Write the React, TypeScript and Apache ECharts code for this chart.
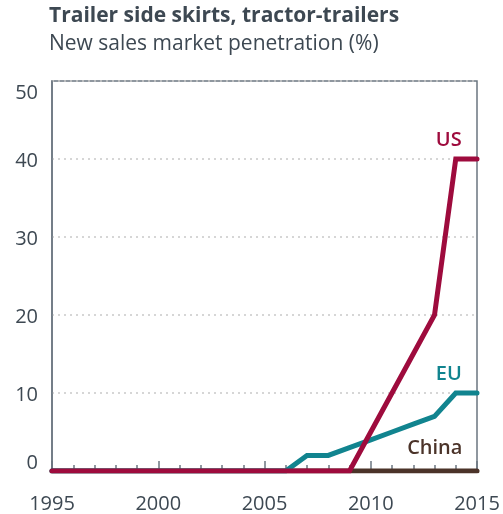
import React, { useEffect, useRef } from "react";
import * as echarts from "echarts";

const years = [1995, 1996, 1997, 1998, 1999, 2000, 2001, 2002, 2003, 2004, 2005, 2006, 2007, 2008, 2009, 2010, 2011, 2012, 2013, 2014, 2015];
const usValues = [0, 0, 0, 0, 0, 0, 0, 0, 0, 0, 0, 0, 0, 0, 0, 5, 10, 15, 20, 40, 40];
const euValues = [0, 0, 0, 0, 0, 0, 0, 0, 0, 0, 0, 0, 2, 2, 3, 4, 5, 6, 7, 10, 10];
const chinaValues = [0, 0, 0, 0, 0, 0, 0, 0, 0, 0, 0, 0, 0, 0, 0, 0, 0, 0, 0, 0, 0];
const labelYear = 2014;

const FONT = "'Open Sans', 'DejaVu Sans', sans-serif";
const TEXT = "#3d4852";
const AXIS = "#6b7680";

const seriesDefs = [
  { name: "China", values: chinaValues, color: "#4b3329", z: 2, dx: -21, dy: -25 },
  { name: "EU", values: euValues, color: "#11848f", z: 3, dx: -7, dy: -21 },
  { name: "US", values: usValues, color: "#9e0b3d", z: 4, dx: -7, dy: -21 },
];

export default function App() {
  const ref = useRef<HTMLDivElement>(null);
  useEffect(() => {
    const chart = echarts.init(ref.current!, null, { renderer: "svg" });
    chart.setOption({
      animation: false,
      title: [
        {
          text: "Trailer side skirts, tractor-trailers",
          left: 49,
          top: 3,
          padding: 0,
          textStyle: { fontFamily: FONT, fontSize: 21, lineHeight: 22, fontWeight: "bold", color: TEXT },
        },
        {
          text: "New sales market penetration (%)",
          left: 49,
          top: 31,
          padding: 0,
          textStyle: { fontFamily: FONT, fontSize: 21, lineHeight: 22, fontWeight: "normal", color: TEXT },
        },
      ],
      grid: {
        left: 52,
        right: 26,
        top: 81,
        bottom: 43,
        show: true,
        borderColor: AXIS,
        borderWidth: 1.5,
        backgroundColor: "transparent",
      },
      xAxis: {
        type: "value",
        min: 1995,
        max: 2015,
        interval: 5,
        axisLine: { show: true, lineStyle: { color: AXIS, width: 1.5 } },
        axisTick: { show: true, inside: true, length: 10, lineStyle: { color: AXIS, width: 1.5 } },
        minorTick: { show: true, splitNumber: 5, length: 6, lineStyle: { color: AXIS, width: 1.5 } },
        splitLine: { show: false },
        axisLabel: { fontFamily: FONT, fontSize: 20, lineHeight: 18, color: TEXT, margin: 22, formatter: (v: number) => String(v) },
      },
      yAxis: {
        type: "value",
        min: 0,
        max: 50,
        interval: 10,
        axisLine: { show: true, lineStyle: { color: AXIS, width: 1.5 } },
        axisTick: { show: false },
        splitLine: { show: true, lineStyle: { color: "#c9c9c9", type: [2, 4], width: 1.5 } },
        axisLabel: {
          fontFamily: FONT,
          fontSize: 20,
          color: TEXT,
          margin: 14,
          verticalAlignMinLabel: "bottom",
          verticalAlignMaxLabel: "top",
        },
      },
      series: seriesDefs.map((s) => ({
        type: "line",
        name: s.name,
        z: s.z,
        symbol: "none",
        lineStyle: { color: s.color, width: 5, cap: "round", join: "miter" },
        data: years.map((y, i) => [y, s.values[i]]),
      })),
    });
    const idx = years.indexOf(labelYear);
    chart.setOption({
      graphic: seriesDefs.map((s) => {
        const p = chart.convertToPixel({ gridIndex: 0 }, [labelYear, s.values[idx]]) as number[];
        return {
          type: "text",
          x: p[0] + s.dx,
          y: p[1] + s.dy,
          z: 10,
          style: {
            text: s.name,
            fill: s.color,
            fontFamily: FONT,
            fontSize: 20,
            fontWeight: 600,
            textAlign: "center",
            textVerticalAlign: "middle",
          },
        };
      }),
    });
    return () => chart.dispose();
  }, []);
  return <div ref={ref} style={{ position: "fixed", left: 0, top: 0, width: 503, height: 514 }} />;
}
